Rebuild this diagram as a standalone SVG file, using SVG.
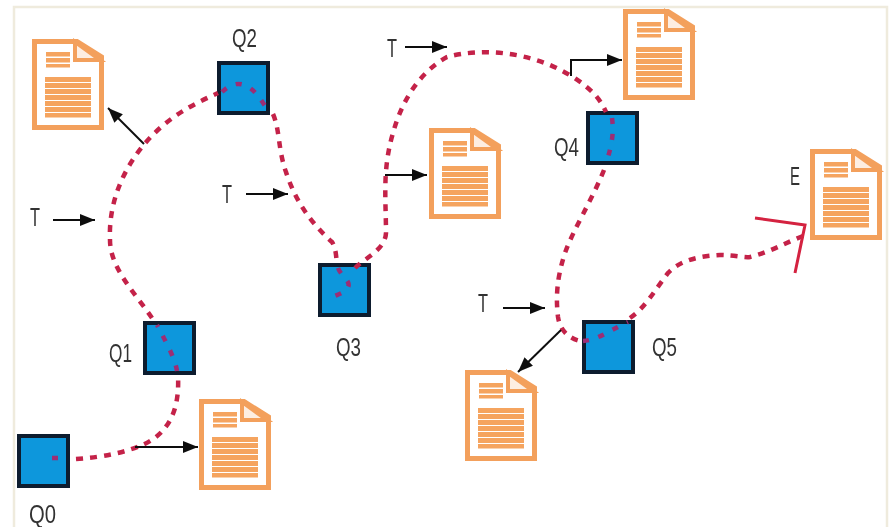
<svg xmlns="http://www.w3.org/2000/svg" xmlns:xlink="http://www.w3.org/1999/xlink" width="891" height="527" viewBox="0 0 891 527">
<style>
text{font-family:"Liberation Sans",Arial,sans-serif;font-size:25px;fill:#333;text-anchor:start}
.sq{fill:#0b97dc;stroke:#0e1a2e;stroke-width:4}
.ar{fill:none;stroke:#111;stroke-width:2;marker-end:url(#ah)}
.rt{fill:none;stroke:#c42348;stroke-width:4.5;stroke-dasharray:7 7}
.in{fill:none;stroke:#9c2f74;stroke-width:4.5;stroke-dasharray:6 10}
.dl{stroke:#f3a05c;stroke-width:5}
.df{fill:#fdeee2;stroke:#f3a05c;stroke-width:4}
.st{fill:#f5a45f}
</style>
<defs>
<filter id="soft" x="0" y="0" width="100%" height="100%"><feGaussianBlur stdDeviation="0.6"/></filter>
<marker id="ah" markerUnits="userSpaceOnUse" markerWidth="16" markerHeight="12" refX="15" refY="6" orient="auto"><path d="M0,0L15,6L0,12Z" fill="#111"/></marker>
<symbol id="doc" width="74" height="94" viewBox="0 0 74 94" overflow="visible">
<path class="dl" fill="#fff" d="M2.5,2.5H45L69.5,18V88.5H2.5Z"/>
<path class="df" d="M43,3V21H68Z"/>
<g class="st">
<rect x="14" y="13" width="24" height="4.5"/><rect x="14" y="19" width="24" height="4.5"/><rect x="14" y="25" width="24" height="3.5"/>
<rect x="13" y="38" width="46" height="5"/><rect x="13" y="44" width="46" height="5"/><rect x="13" y="50" width="46" height="5"/><rect x="13" y="56" width="46" height="5"/><rect x="13" y="62" width="46" height="5"/><rect x="13" y="68" width="46" height="5"/><rect x="13" y="74" width="46" height="4.5"/>
</g>
</symbol>
</defs>
<g filter="url(#soft)">
<rect width="891" height="527" fill="#fff"/>
<path d="M14,527V7H887V527" fill="none" stroke="#efebdd" stroke-width="2.5"/>
<g id="doc-1"><use xlink:href="#doc" href="#doc" x="32" y="39"/></g>
<g id="doc-2"><use xlink:href="#doc" href="#doc" x="199" y="399"/></g>
<g id="doc-3"><use xlink:href="#doc" href="#doc" x="429" y="128"/></g>
<g id="doc-4"><use xlink:href="#doc" href="#doc" x="623" y="9"/></g>
<g id="doc-5"><use xlink:href="#doc" href="#doc" x="810" y="149"/></g>
<g id="doc-6"><use xlink:href="#doc" href="#doc" x="465" y="370"/></g>
<g id="Q0"><rect class="sq" x="19" y="436" width="49" height="50"/><text x="29" y="523" textLength="27" lengthAdjust="spacingAndGlyphs">Q0</text></g>
<g id="Q1"><rect class="sq" x="145" y="323" width="49" height="50"/><text x="109" y="362" textLength="23" lengthAdjust="spacingAndGlyphs">Q1</text></g>
<g id="Q2"><rect class="sq" x="219" y="63" width="49" height="50"/><text x="232" y="47" textLength="25" lengthAdjust="spacingAndGlyphs">Q2</text></g>
<g id="Q3"><rect class="sq" x="320" y="265" width="49" height="50"/><text x="336" y="356" textLength="25" lengthAdjust="spacingAndGlyphs">Q3</text></g>
<g id="Q4"><rect class="sq" x="588" y="113" width="49" height="50"/><text x="554" y="156" textLength="25" lengthAdjust="spacingAndGlyphs">Q4</text></g>
<g id="Q5"><rect class="sq" x="584" y="322" width="49" height="50"/><text x="652" y="356" textLength="25" lengthAdjust="spacingAndGlyphs">Q5</text></g>
<g id="labels">
<text x="30" y="226" textLength="10" lengthAdjust="spacingAndGlyphs">T</text>
<text x="222" y="203" textLength="10" lengthAdjust="spacingAndGlyphs">T</text>
<text x="387" y="57" textLength="10" lengthAdjust="spacingAndGlyphs">T</text>
<text x="478" y="312" textLength="10" lengthAdjust="spacingAndGlyphs">T</text>
<text x="790" y="185" textLength="10" lengthAdjust="spacingAndGlyphs">E</text>
</g>
<g id="connectors">
<path class="in" d="M52,458L68,458"/>
<path class="rt" d="M76,459C105,457 125,452 140,446C165,436 180,415 178,376"/>
<path class="in" d="M177,371C175,358 165,340 157,325"/>
<path class="rt" d="M152,318C135,293 110,268 110,240C108,195 130,155 160,128C178,112 198,102 218,93"/>
<path class="in" d="M222,92C232,82 242,82 250,88C258,94 262,102 268,110"/>
<path class="rt" d="M273,114C280,130 278,150 286,172C295,200 310,222 332,242C336,248 336,256 337,264"/>
<path class="in" d="M338,268C342,278 354,282 346,290C340,296 330,295 332,300"/>
<path class="rt" d="M355,268C365,258 385,250 386,233C386,200 382,170 393,133C402,100 420,72 447,57C480,48 530,50 573,77C590,88 600,98 606,112"/>
<path class="in" d="M612,118C614,132 612,145 607,160"/>
<path class="rt" d="M604,170C592,200 572,232 565,253C556,280 556,300 558,317C560,330 568,338 580,341"/>
<path class="in" d="M583,341C598,340 610,330 628,322"/>
<path class="rt" d="M630,318C645,308 655,290 668,273C680,260 700,256 720,255C735,255 745,258 750,257C770,252 785,243 803,236"/>
<path class="ar" d="M53,220H95"/>
<path class="ar" d="M246,194H288"/>
<path class="ar" d="M405,47H447"/>
<path class="ar" d="M503,308H545"/>
<path class="ar" d="M144,144L108,108"/>
<path class="ar" d="M135,447H198"/>
<path class="ar" d="M385,175H427"/>
<path class="ar" d="M571,76V60H622"/>
<path class="ar" d="M561,330L518,372"/>
<path d="M755,218L805,225L795,273" fill="none" stroke="#d4203f" stroke-width="3"/>
</g>
</g>
</svg>
